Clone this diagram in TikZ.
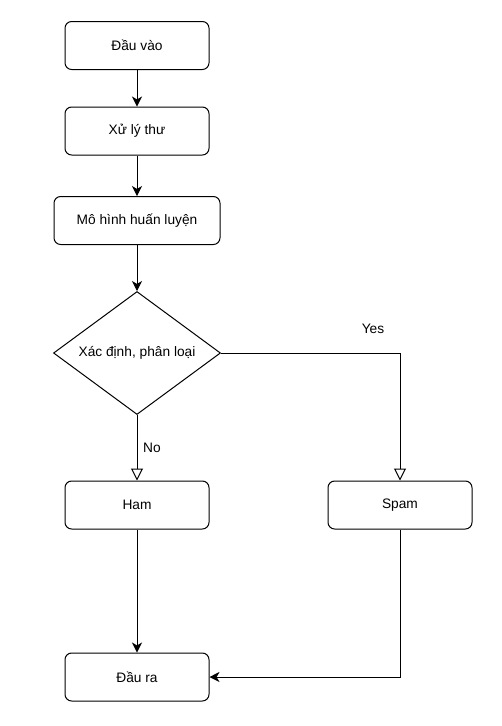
\documentclass[tikz,border=0pt]{standalone}
\usepackage{fontspec}
\setmainfont{Liberation Sans}
\usepackage{tikz}
\usetikzlibrary{shapes.geometric, arrows.meta, positioning}

\begin{document}
\begin{tikzpicture}[x=0.75pt, y=-0.75pt,
    stepbox/.style={rectangle, draw=black, line width=0.75pt, rounded corners=5pt, fill=white, minimum width=108pt, minimum height=36pt, font=\fontsize{10.3}{12}\selectfont},
    decision/.style={diamond, draw=black, line width=0.75pt, fill=white, inner sep=0pt, minimum width=125.25pt, minimum height=92.25pt, font=\fontsize{10.3}{12}\selectfont},
    flow/.style={draw=black, line width=0.75pt, -{Stealth[length=7.5pt, width=7.5pt, inset=2.2pt]}},
    branch/.style={draw=black, line width=0.75pt, -{Triangle[open, length=9pt, width=9pt, fill=white]}},
    lbl/.style={font=\fontsize{10.3}{12}\selectfont}]
    \useasboundingbox (0,0) rectangle (501,726);

    % Main chain
    \node[stepbox] (in) at (137,45.5) {Đầu vào};
    \node[stepbox] (proc) at (137,131) {Xử lý thư};
    \node[stepbox, minimum width=124.5pt] (model) at (137,220.5) {Mô hình huấn luyện};
    \node[decision] (decide) at (137,353) {\makebox[0pt]{Xác định, phân loại}};

    % Results
    \node[stepbox] (ham) at (137,505) {Ham};
    \node[stepbox] (spam) at (400,505) {Spam};
    \node[stepbox] (out) at (137,677) {Đầu ra};

    % Arrows
    \draw[flow] (in) -- (proc);
    \draw[flow] (proc) -- (model);
    \draw[flow] (model) -- (decide);
    \draw[branch] (decide.south) -- (ham);
    \draw[branch] (decide.east) -| (spam);
    \draw[flow] (ham) -- (out);
    \draw[flow] (spam.south) |- (out.east);

    % Branch labels
    \node[lbl] (yes) at (373,329) {Yes};
    \node[lbl, anchor=west] (no) at (138.5,448) {No};
\end{tikzpicture}
\end{document}
